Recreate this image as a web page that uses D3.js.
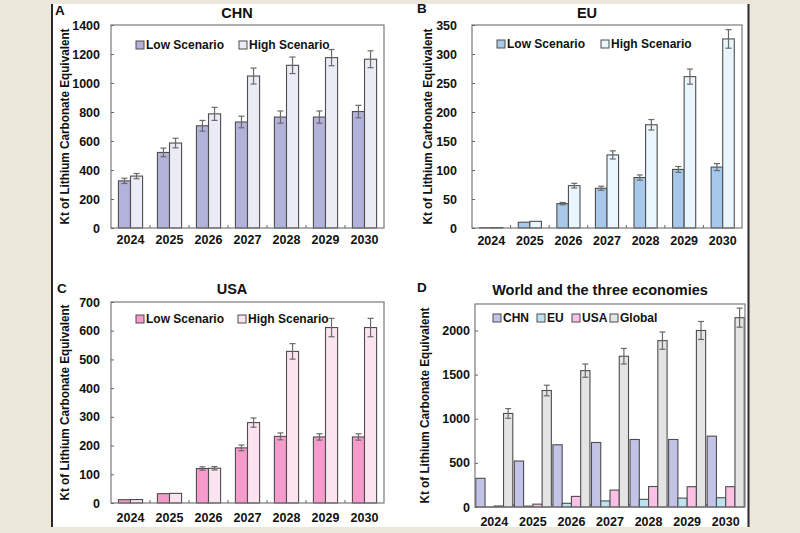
<!DOCTYPE html>
<html><head><meta charset="utf-8">
<script src="https://cdn.jsdelivr.net/npm/d3@7"></script>
<style>
html,body{margin:0;padding:0;background:#ebe7da;}
svg{display:block;font-family:"Liberation Sans",Arial,sans-serif;}
</style></head>
<body><svg id="c" width="800" height="533"></svg>
<script>
const years = ["2024","2025","2026","2027","2028","2029","2030"];
const chnLow = [325, 521, 705, 731, 765, 765, 803];
const chnHigh = [358, 586, 787, 1048, 1122, 1175, 1164];
const chnLowErr = [18, 30, 37, 40, 42, 42, 43];
const chnHighErr = [18, 33, 45, 55, 57, 56, 58];
const euLow = [0.5, 10, 42, 68.5, 87, 101, 105];
const euHigh = [0.8, 11.5, 73, 126, 178, 261, 326];
const euLowErr = [0, 0, 2, 3.5, 4.5, 5, 6];
const euHighErr = [0, 0, 4, 7, 9, 13, 16];
const usaLow = [11.5, 32.5, 120, 192, 232, 230, 230];
const usaHigh = [12, 33.5, 121, 280, 528, 611, 611];
const usaLowErr = [0, 0, 6, 10, 12, 11, 11];
const usaHighErr = [0, 0, 6, 16, 27, 32, 32];
const globalTotal = [1060, 1320, 1545, 1708, 1885, 2000, 2145];
const globalErr = [55, 60, 75, 88, 98, 102, 108];
const ticksA = [0,200,400,600,800,1000,1200,1400];
const ticksB = [0,50,100,150,200,250,300,350];
const ticksC = [0,100,200,300,400,500,600,700];
const ticksD = [0,500,1000,1500,2000];
const yTitle = "Kt of Lithium Carbonate Equivalent";

const svg = d3.select("#c");
svg.append("rect").attr("x",52).attr("y",4).attr("width",697).attr("height",523).attr("fill","#fff");
svg.append("rect").attr("x",51).attr("y",4).attr("width",2).attr("height",523).attr("fill","#2a2a2a");
svg.append("rect").attr("x",747.5).attr("y",4).attr("width",2).attr("height",523).attr("fill","#2a2a2a");

const FONT = "bold";
function panel(cfg){
  const g = svg.append("g");
  const x = d3.scaleBand().domain(years).range([cfg.left, cfg.right]).padding(0);
  const y = d3.scaleLinear().domain([0, cfg.max]).range([cfg.bottom, cfg.top]);
  const step = x.step();
  const n = cfg.series.length;
  const bw = step * cfg.barFrac;
  const groupW = bw * n;
  cfg.series.forEach((s, si) => {
    const bx = d => x(d) + (step - groupW)/2 + si*bw;
    g.selectAll(null).data(years).enter().append("rect")
      .attr("x", d => bx(d))
      .attr("y", (d,i) => y(s.values[i]))
      .attr("width", bw)
      .attr("height", (d,i) => y(0) - y(s.values[i]))
      .attr("fill", s.color).attr("stroke", "#4d4d4d").attr("stroke-width", 1.1);
    if (s.err){
      years.forEach((d,i) => {
        const e = s.err[i]; if (!e) return;
        const cx = bx(d) + bw/2;
        const y1 = y(s.values[i]+e), y2 = y(s.values[i]-e);
        g.append("line").attr("x1",cx).attr("x2",cx).attr("y1",y1).attr("y2",y2).attr("stroke","#6a6a6a").attr("stroke-width",1.2);
        [y1,y2].forEach(yy => g.append("line").attr("x1",cx-3).attr("x2",cx+3).attr("y1",yy).attr("y2",yy).attr("stroke","#6a6a6a").attr("stroke-width",1.2));
      });
    }
  });
  g.append("rect").attr("x",cfg.left).attr("y",cfg.top).attr("width",cfg.right-cfg.left).attr("height",cfg.bottom-cfg.top)
    .attr("fill","none").attr("stroke","#7a7a7a").attr("stroke-width",1.2);
  const ya = g.append("g").attr("transform",`translate(${cfg.left},0)`)
    .call(d3.axisLeft(y).tickValues(cfg.ticks).tickFormat(d3.format("d")).tickSizeInner(-3).tickSizeOuter(0).tickPadding(cfg.tickPad));
  ya.select(".domain").remove();
  ya.selectAll("line").attr("stroke","#666");
  ya.selectAll("text").attr("font-size",12.5).attr("font-weight",FONT).attr("fill","#111").attr("font-family","Liberation Sans, Arial, sans-serif");
  const xa = g.append("g").attr("transform",`translate(0,${cfg.bottom})`)
    .call(d3.axisBottom(x).tickSize(0).tickPadding(cfg.xPad));
  xa.select(".domain").remove();
  xa.selectAll("text").attr("font-size",12.5).attr("font-weight",FONT).attr("fill","#111").attr("font-family","Liberation Sans, Arial, sans-serif");
  years.slice(1).forEach(d => {
    g.append("line").attr("x1",x(d)).attr("x2",x(d)).attr("y1",cfg.bottom).attr("y2",cfg.bottom-3).attr("stroke","#666");
  });
  g.append("text").attr("x",cfg.titleX).attr("y",cfg.titleY).attr("text-anchor","middle")
    .attr("font-size",14.5).attr("font-weight","bold").attr("fill","#111").text(cfg.title);
  g.append("text").attr("x",cfg.letterX).attr("y",cfg.letterY)
    .attr("font-size",13.5).attr("font-weight","bold").attr("fill","#111").text(cfg.letter);
  g.append("text").attr("transform",`translate(${cfg.yTitleX},${(cfg.top+cfg.bottom)/2}) rotate(-90)`)
    .attr("text-anchor","middle").attr("font-size",12).attr("font-weight","bold").attr("fill","#111")
    .attr("textLength",196).attr("lengthAdjust","spacingAndGlyphs").text(yTitle);
  cfg.series.forEach((s, si) => {
    const lx = cfg.legendX[si];
    g.append("rect").attr("x",lx).attr("y",cfg.legendY-4).attr("width",8).attr("height",8)
      .attr("fill",s.color).attr("stroke","#4d4d4d").attr("stroke-width",1);
    g.append("text").attr("x",lx+10).attr("y",cfg.legendY).attr("dy","0.36em")
      .attr("font-size",12).attr("font-weight","bold").attr("fill","#111").text(s.name);
  });
}

panel({left:111,right:384,top:25,bottom:228,max:1400,ticks:ticksA,tickPad:11,xPad:7,barFrac:0.31,
  title:"CHN",titleX:237,titleY:18,letter:"A",letterX:55,letterY:15,yTitleX:69,
  legendX:[136,239],legendY:45,
  series:[{name:"Low Scenario",values:chnLow,err:chnLowErr,color:"#b3b2db"},
          {name:"High Scenario",values:chnHigh,err:chnHighErr,color:"#ebebf5"}]});
panel({left:472,right:742,top:25,bottom:228,max:350,ticks:ticksB,tickPad:15,xPad:8,barFrac:0.30,
  title:"EU",titleX:587,titleY:18,letter:"B",letterX:417,letterY:13,yTitleX:432,
  legendX:[497,601],legendY:44,
  series:[{name:"Low Scenario",values:euLow,err:euLowErr,color:"#a8c8ea"},
          {name:"High Scenario",values:euHigh,err:euHighErr,color:"#eaf6fd"}]});
panel({left:111,right:384,top:302,bottom:503,max:700,ticks:ticksC,tickPad:11,xPad:10,barFrac:0.31,
  title:"USA",titleX:232,titleY:294,letter:"C",letterX:57,letterY:293,yTitleX:69,
  legendX:[136,238],legendY:319,
  series:[{name:"Low Scenario",values:usaLow,err:usaLowErr,color:"#f59ccd"},
          {name:"High Scenario",values:usaHigh,err:usaHighErr,color:"#fbe4f0"}]});
panel({left:475,right:745,top:304,bottom:507,max:2300,ticks:ticksD,tickPad:5,xPad:10,barFrac:0.24,
  title:"World and the three economies",titleX:600,titleY:295,letter:"D",letterX:417,letterY:292,yTitleX:429,
  legendX:[493,537,572,610],legendY:318,
  series:[{name:"CHN",values:chnLow,color:"#c3c3e8"},
          {name:"EU",values:euLow,color:"#bde3f2"},
          {name:"USA",values:usaLow,color:"#fbc0e3"},
          {name:"Global",values:globalTotal,err:globalErr,color:"#e4e4e4"}]});
</script></body></html>
